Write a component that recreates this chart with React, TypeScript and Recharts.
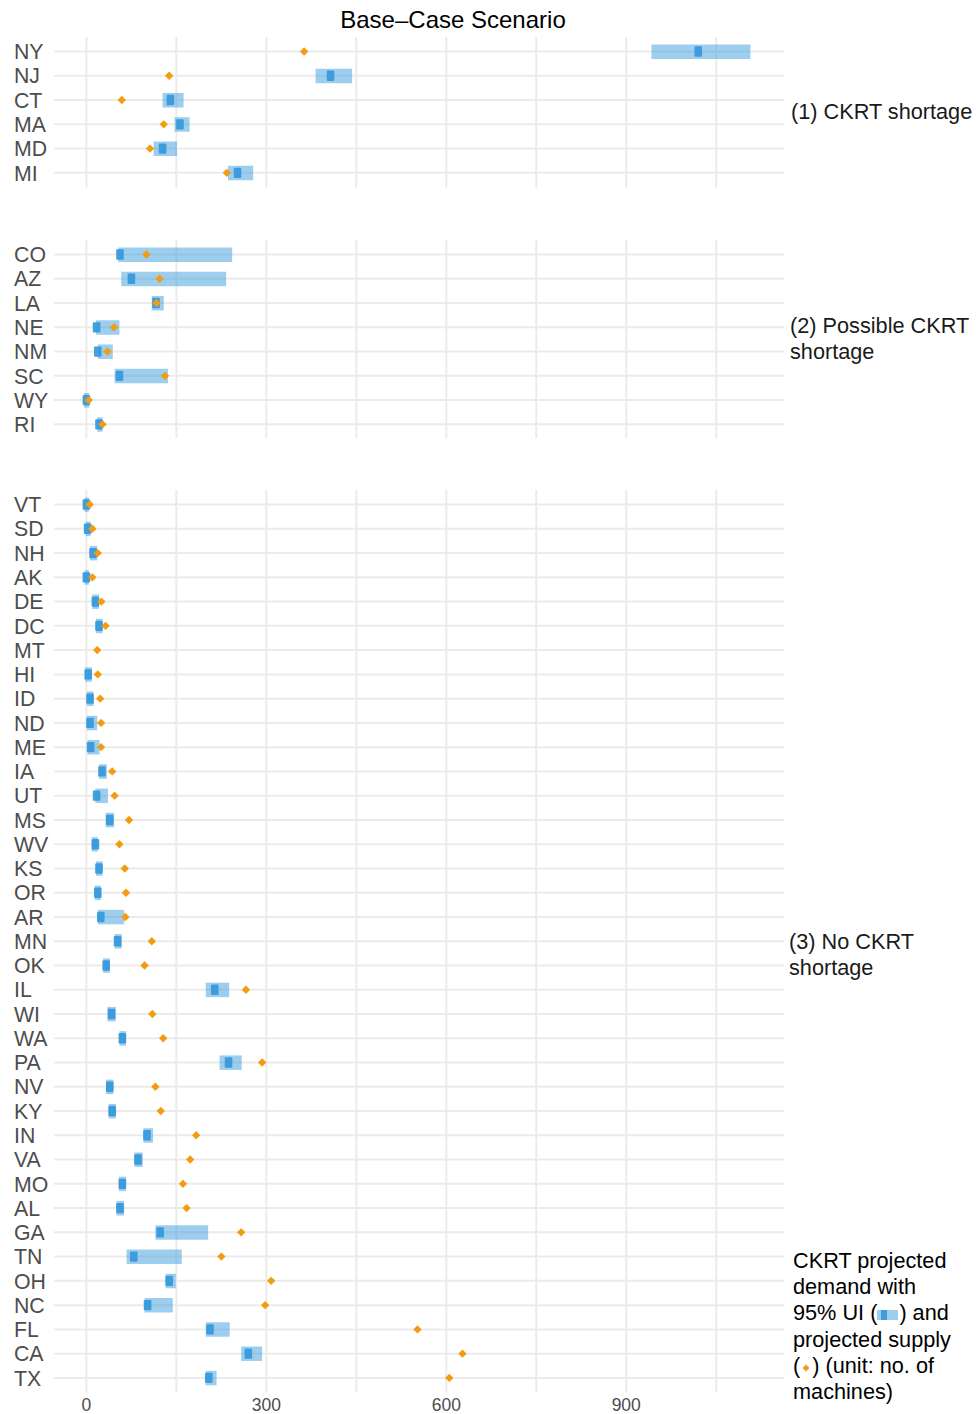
import React from 'react';
import { ComposedChart, Bar, Scatter, XAxis, YAxis, CartesianGrid } from 'recharts';

// (1) CKRT shortage
const shortStates = ['NY', 'NJ', 'CT', 'MA', 'MD', 'MI'];
const shortLow = [942, 382, 127, 147, 112, 236];
const shortHigh = [1107, 443, 162, 172, 151, 278];
const shortMedian = [1020, 407, 140, 156, 127, 252];
const shortSupply = [363, 138, 59, 129, 106, 234];

// (2) Possible CKRT shortage
const possStates = ['CO', 'AZ', 'LA', 'NE', 'NM', 'SC', 'WY', 'RI'];
const possLow = [53, 58, 109, 16, 19, 47, -4, 18];
const possHigh = [243, 233, 129, 55, 44, 136, 5, 27];
const possMedian = [56, 75, 116, 17, 19, 55, 0, 21];
const possSupply = [100, 122, 117, 46, 35, 131, 4, 27];

// (3) No CKRT shortage
const noStates = [
  'VT', 'SD', 'NH', 'AK', 'DE', 'DC', 'MT', 'HI', 'ID', 'ND', 'ME', 'IA', 'UT',
  'MS', 'WV', 'KS', 'OR', 'AR', 'MN', 'OK', 'IL', 'WI', 'WA', 'PA', 'NV', 'KY',
  'IN', 'VA', 'MO', 'AL', 'GA', 'TN', 'OH', 'NC', 'FL', 'CA', 'TX',
];
const noLow = [
  -3, -1, 6, -3, 10, 16, null, -2, 1, 1, 2, 21, 15,
  32, 9, 16, 14, 19, 47, 28, 199, 35, 55, 222, 33, 37,
  95, 80, 54, 50, 115, 67, 132, 97, 199, 258, 199,
];
const noHigh = [
  4, 7, 18, 4, 21, 27, null, 9, 12, 18, 22, 34, 36,
  46, 19, 27, 24, 63, 59, 39, 238, 49, 66, 259, 45, 49,
  111, 94, 66, 63, 203, 159, 149, 144, 239, 293, 217,
];
const noMedian = [
  0, 2, 11, 0, 15, 21, null, 3, 6, 6, 7, 26, 17,
  39, 15, 21, 19, 24, 52, 33, 214, 42, 60, 237, 39, 43,
  101, 86, 60, 56, 123, 79, 138, 102, 206, 270, 204,
];
const noSupply = [
  5.5, 10, 19, 10, 25, 32, 18, 19, 23, 24.5, 24.5, 43, 47,
  71, 55, 64, 66, 65, 109, 97, 266, 110, 128, 293, 115, 124,
  183, 173, 161, 167, 258, 225, 308, 298, 552, 627, 605,
];

const xTicks = [0, 150, 300, 450, 600, 750, 900, 1050];
const xLabels = ['0', '', '300', '', '600', '', '900', ''];

const ROW = 24.26;
const PAD = ROW * 0.1;
const FONT = '"Liberation Sans", Arial, Helvetica, sans-serif';
const BLUE = '#3498db';
const ORANGE = '#f39c12';

function buildRows(states: string[], low: (number | null)[], high: (number | null)[], median: (number | null)[], supply: number[]) {
  return states.map((s, i) => ({
    state: s,
    ui: low[i] == null ? null : [low[i], high[i]],
    median: median[i],
    supply: supply[i],
  }));
}

function StateTick(props: any) {
  const { y, payload } = props;
  return (
    <text x={14} y={y} dy="0.36em" fill="#4d4d4d" fontSize={21.3} fontFamily={FONT}>
      {payload.value}
    </text>
  );
}

function MedianMark(props: any) {
  const { cx, cy } = props;
  if (!Number.isFinite(cx) || !Number.isFinite(cy)) return <g />;
  return <rect x={cx - 3.8} y={cy - 5.2} width={7.6} height={10.4} rx={1.2} fill={BLUE} fillOpacity={0.92} />;
}

function SupplyMark(props: any) {
  const { cx, cy } = props;
  if (!Number.isFinite(cx) || !Number.isFinite(cy)) return <g />;
  const r = 4.2;
  return <polygon points={`${cx},${cy - r} ${cx + r},${cy} ${cx},${cy + r} ${cx - r},${cy}`} fill={ORANGE} />;
}

function Panel({ rows, top, showAxis }: { rows: any[]; top: number; showAxis?: boolean }) {
  const plotH = (rows.length + 0.2) * ROW;
  const axisH = showAxis ? 24 : 0;
  return (
    <div style={{ position: 'absolute', left: 0, top }}>
      <ComposedChart
        width={976}
        height={plotH + axisH}
        data={rows}
        layout="vertical"
        margin={{ top: 0, right: 192, bottom: 0, left: 0 }}
      >
        <CartesianGrid stroke="#ebebeb" strokeWidth={2} syncWithTicks />
        <XAxis
          type="number"
          domain={[-54, 1163]}
          allowDataOverflow
          ticks={xTicks}
          tickFormatter={(v: number) => xLabels[xTicks.indexOf(v)] ?? ''}
          hide={!showAxis}
          height={axisH}
          axisLine={false}
          tickLine={false}
          tickSize={0}
          tickMargin={6}
          tick={{ fill: '#4d4d4d', fontSize: 17.5, fontFamily: FONT }}
        />
        <YAxis
          type="category"
          dataKey="state"
          width={54}
          interval={0}
          padding={{ top: PAD, bottom: PAD }}
          axisLine={false}
          tickLine={false}
          tick={<StateTick />}
        />
        <Bar dataKey="ui" barSize={14.5} fill={BLUE} fillOpacity={0.48} isAnimationActive={false} />
        <Scatter dataKey="median" shape={<MedianMark />} isAnimationActive={false} />
        <Scatter dataKey="supply" shape={<SupplyMark />} isAnimationActive={false} />
      </ComposedChart>
    </div>
  );
}

const stripStyle: React.CSSProperties = {
  position: 'absolute',
  fontSize: 21.7,
  lineHeight: '26.2px',
  color: '#1a1a1a',
  fontFamily: FONT,
  whiteSpace: 'nowrap',
};

export default function App() {
  const rows1 = buildRows(shortStates, shortLow, shortHigh, shortMedian, shortSupply);
  const rows2 = buildRows(possStates, possLow, possHigh, possMedian, possSupply);
  const rows3 = buildRows(noStates, noLow, noHigh, noMedian, noSupply);

  return (
    <div style={{ position: 'absolute', left: 0, top: 0, width: 976, height: 1414, background: '#fff', overflow: 'hidden', fontFamily: FONT }}>
      <div style={{ position: 'absolute', left: 153, width: 600, top: 5, textAlign: 'center', fontSize: 24, lineHeight: '30px', color: '#000' }}>
        Base–Case Scenario
      </div>

      <Panel rows={rows1} top={37.1} />
      <Panel rows={rows2} top={239.5} />
      <Panel rows={rows3} top={489.8} showAxis />

      <div style={{ ...stripStyle, left: 791, top: 99 }}>(1) CKRT shortage</div>
      <div style={{ ...stripStyle, left: 790, top: 313 }}>
        (2) Possible CKRT<br />shortage
      </div>
      <div style={{ ...stripStyle, left: 789, top: 929 }}>
        (3) No CKRT<br />shortage
      </div>

      <div style={{ ...stripStyle, left: 793, top: 1248, color: '#000' }}>
        CKRT projected<br />
        demand with<br />
        95% UI (
        <svg width={22} height={12} style={{ verticalAlign: '-1px' }}>
          <rect x={0} y={1} width={21} height={10} fill={BLUE} fillOpacity={0.48} />
          <rect x={4} y={1} width={6} height={10} fill={BLUE} fillOpacity={0.9} />
        </svg>
        ) and<br />
        projected supply<br />
        (
        <svg width={12} height={12} style={{ verticalAlign: '-1px' }}>
          <polygon points="6,2.5 9.5,6 6,9.5 2.5,6" fill={ORANGE} />
        </svg>
        ) (unit: no. of<br />
        machines)
      </div>
    </div>
  );
}
